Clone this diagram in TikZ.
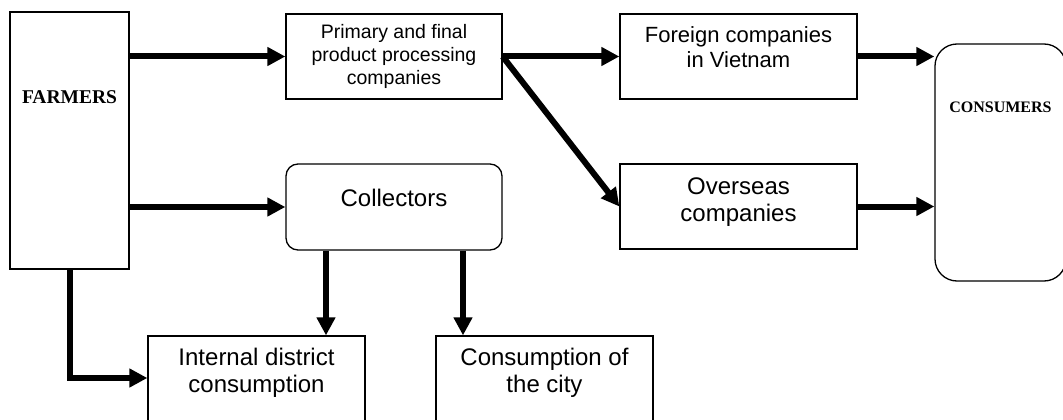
\documentclass[tikz,border=0pt]{standalone}
\usepackage{fontspec}
\setmainfont{Liberation Sans}
\newfontfamily\timesfont{Liberation Serif}
\usetikzlibrary{arrows.meta}
\newcommand{\lift}[2]{\raisebox{#1}[\height][\depth]{#2}}
\newcommand{\twolines}[2]{\begin{tabular}{@{}c@{}}#1\\#2\end{tabular}}

\tikzset{
  box/.style={draw, line width=1.3pt, inner sep=0pt, align=center},
  roundbox/.style={box, rounded corners=12pt},
  flow/.style={line width=6pt, -{Triangle[length=18pt,width=18pt]}},
}

\begin{document}
\begin{tikzpicture}[x=1pt,y=-1pt]
\useasboundingbox (0,0) rectangle (1063,420);

\node[box, minimum width=119pt, minimum height=257pt,
  font=\timesfont\bfseries\fontsize{19.5}{22}\selectfont] (farmers) at (69.5,140.5) {\lift{43pt}{FARMERS}};
\node[box, minimum width=216pt, minimum height=85pt,
  font=\fontsize{19.5}{23}\selectfont] (primary) at (394,56.5) {Primary and final\\product processing\\companies};
\node[roundbox, minimum width=216pt, minimum height=86pt,
  font=\fontsize{24}{27}\selectfont] (collect) at (394,207) {\lift{9.5pt}{Collectors}};
\node[box, minimum width=237pt, minimum height=85pt,
  font=\fontsize{22}{25}\selectfont] (foreign) at (738.5,56.5) {\lift{6pt}{\twolines{Foreign companies}{in Vietnam}}};
\node[box, minimum width=237pt, minimum height=85pt,
  font=\fontsize{24}{27}\selectfont] (overseas) at (738.5,206.5) {\lift{4pt}{\twolines{Overseas}{companies}}};
\node[box, rounded corners=22pt, minimum width=131pt, minimum height=237pt,
  font=\timesfont\bfseries\fontsize{16}{19}\selectfont] (consumers) at (1000.5,162.5) {\lift{55.5pt}{CONSUMERS}};
\node[box, minimum width=217pt, minimum height=88pt,
  font=\fontsize{24}{27}\selectfont] (internal) at (256.5,380) {\lift{6pt}{\twolines{Internal district}{consumption}}};
\node[box, minimum width=217pt, minimum height=88pt,
  font=\fontsize{24}{27}\selectfont] (city) at (544.5,380) {\lift{6pt}{\twolines{Consumption of}{the city}}};

\draw[flow] (farmers.east |- primary.west) -- (primary.west);
\draw[flow] (farmers.east |- collect.west) -- (collect.west);
\draw[flow] (farmers.south) |- ([yshift=2pt]internal.west);
\draw[flow] (primary.east) -- (foreign.west);
\draw[flow] (primary.east) -- (overseas.west);
\draw[flow] (foreign.east) -- (foreign.east -| consumers.west);
\draw[flow] (overseas.east) -- (overseas.east -| consumers.west);
\draw[flow] ([xshift=-68pt]collect.south) coordinate (c1) -- (c1 |- internal.north);
\draw[flow] ([xshift=69pt]collect.south) coordinate (c2) -- (c2 |- city.north);
\end{tikzpicture}
\end{document}
